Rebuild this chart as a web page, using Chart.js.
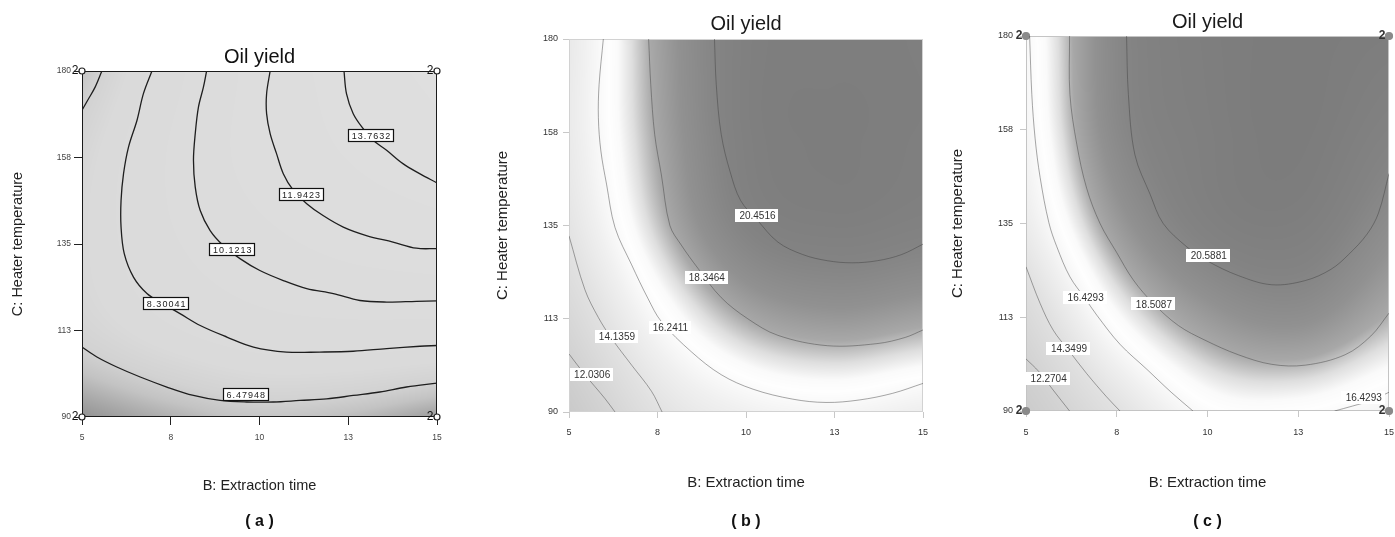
<!DOCTYPE html>
<html lang="en">
<head>
<meta charset="UTF-8">
<title>Oil yield contour plots</title>
<script src="https://cdn.jsdelivr.net/npm/chart.js"></script>
<style>
  html, body { margin: 0; padding: 0; background: #fff; }
  #wrap { position: relative; width: 1395px; height: 537px; }
  .panel { position: absolute; top: 0; height: 537px; }
</style>
</head>
<body>
<div id="wrap">
  <div class="panel" style="left:0;width:460px"><canvas id="chartA"></canvas></div>
  <div class="panel" style="left:460px;width:470px"><canvas id="chartB"></canvas></div>
  <div class="panel" style="left:930px;width:465px"><canvas id="chartC"></canvas></div>
</div>

<script>
// axis ticks (coded -1 .. +1 levels, labelled with rounded real values)
const timeTicks = [5, 7.5, 10, 12.5, 15];
const timeTickLabels = ['5', '8', '10', '13', '15'];
const tempTicks = [90, 112.5, 135, 157.5, 180];
const tempTickLabels = ['90', '113', '135', '158', '180'];

// design points in the corners, 2 replicates each
const designTime = [5, 15, 5, 15];
const designTemp = [90, 90, 180, 180];
const designReps = ['2', '2', '2', '2'];

const gridTime = [5, 7.5, 10, 12.5, 15];
const gridTemp = [90, 112.5, 135, 157.5, 180];
const aGrid = [
  [4.5, 5.3, 5.9, 5.6, 4.8],
  [6.8, 8.0, 8.8, 9.0, 8.9],
  [7.3, 9.2, 10.5, 11.45, 12.0],
  [7.0, 9.5, 11.6, 13.05, 14.2],
  [5.9, 8.9, 11.6, 13.85, 15.5]
];
const bGrid = [
  [10.6, 14.0, 15.5, 15.9, 15.3],
  [12.7, 16.2, 18.35, 19.0, 18.6],
  [14.3, 17.9, 20.45, 21.0, 20.7],
  [14.9, 18.45, 20.9, 21.3, 21.1],
  [14.8, 18.6, 20.9, 21.2, 21.1]
];
const cGrid = [
  [11.0, 14.25, 16.6, 16.8, 16.0],
  [13.2, 17.05, 19.1, 19.7, 18.4],
  [15.3, 19.06, 20.9, 21.2, 19.85],
  [16.1, 20.07, 21.2, 21.6, 20.8],
  [16.3, 20.23, 21.3, 21.6, 21.4]
];

// (a) contour lines [time, temperature]
const a648 = [[5.0,108.2],[5.42,105.6],[5.98,103.0],[6.64,100.4],[7.39,97.8],[8.14,95.6],[8.89,94.3],[9.64,93.9],[10.39,93.9],[11.14,94.3],[11.89,94.7],[12.64,95.6],[13.39,96.5],[14.14,97.8],[15,98.8]];
const a648top = [[5.56,180],[5.37,175.8],[5.16,172.4],[5.0,169.8]];
const a830 = [[6.97,180],[6.73,174.1],[6.55,167.2],[6.31,160.2],[6.17,153.3],[6.10,146.3],[6.10,139.4],[6.19,132.5],[6.45,126.4],[6.83,122.1],[7.20,119.9],[7.76,116.9],[8.33,113.8],[9.08,110.8],[9.83,108.2],[10.76,106.9],[11.70,106.9],[12.64,107.1],[13.58,107.8],[14.52,108.4],[15,108.6]];
const a1012 = [[8.51,180],[8.42,175.8],[8.28,170.6],[8.19,163.7],[8.14,156.8],[8.19,149.8],[8.33,143.7],[8.61,138.5],[8.98,134.6],[9.45,131.2],[10.01,128.1],[10.67,125.5],[11.33,123.4],[12.08,122.1],[12.83,120.3],[13.58,119.9],[14.42,120.1],[15,120.2]];
const a1194 = [[10.30,180],[10.20,174.1],[10.20,168.9],[10.30,163.7],[10.48,158.5],[10.67,153.3],[10.95,149.0],[11.33,145.5],[11.79,142.4],[12.36,139.4],[13.01,137.2],[13.76,135.5],[14.42,133.9],[15,133.8]];
const a1376 = [[12.38,180],[12.45,174.1],[12.64,168.9],[12.92,165.0],[13.20,162.0],[13.58,159.4],[14.04,155.9],[14.51,153.3],[15,150.9]];
const aLabelText = ['6.47948', '8.30041', '10.1213', '11.9423', '13.7632'];
const aLabelTime = [9.61, 7.37, 9.23, 11.17, 13.14];
const aLabelTemp = [95.9, 119.5, 133.5, 147.9, 163.3];

// (b) contour lines
const b1203 = [[5.0,104],[5.45,99],[6.01,93.3],[6.30,90]];
const b1414 = [[5.0,132.5],[5.45,119.5],[5.83,112.8],[6.2,107.8],[6.77,101.3],[7.33,95],[7.63,90]];
const b1624 = [[5.97,180],[5.85,169],[5.83,161],[5.90,153],[6.06,145],[6.30,134.5],[6.77,125.5],[7.23,117.4],[7.61,111.8],[8.46,104.5],[9.3,99],[10.2,95.5],[11.32,93.1],[12.26,92.3],[13.2,92.9],[14.14,94.5],[15,96.9]];
const b1835 = [[7.25,180],[7.31,169],[7.42,157],[7.61,147.2],[7.85,135],[8.17,130.3],[8.64,124.7],[9.3,117.6],[10.05,112.5],[10.9,108.5],[12.3,106],[13.7,106.5],[14.5,108],[15,109.8]];
const b2045 = [[9.11,180],[9.16,169],[9.3,157],[9.55,148],[9.85,141],[10.3,136.5],[10.9,131],[11.6,128],[12.3,126.5],[13.0,126],[13.71,126.5],[14.4,128],[15,130.5]];
const bLabelText = ['12.0306', '14.1359', '16.2411', '18.3464', '20.4516'];
const bLabelTime = [5.64, 6.34, 7.85, 8.88, 10.31];
const bLabelTemp = [99, 108.3, 110.5, 122.5, 137.5];

// (c) contour lines
const c1227 = [[5.0,102.5],[5.35,99.5],[5.75,95.0],[6.2,90]];
const c1435 = [[5.0,124.6],[5.39,115.8],[5.75,109.4],[6.17,104.6],[6.67,99],[7.22,93.4],[7.59,90]];
const c1643 = [[5.1,180],[5.16,166],[5.25,155.5],[5.39,146],[5.63,135.2],[5.85,129.4],[6.21,122.2],[6.63,117],[6.95,113],[7.59,106],[8.33,100],[9.0,94.5],[9.6,90]];
const c1643corner = [[13.5,90],[14.0,91.2],[14.5,92.5],[15,94.5]];
const c1851 = [[6.2,180],[6.21,166],[6.40,154],[6.67,143.5],[7.04,135],[7.5,128],[7.96,121.4],[8.51,115.8],[9.2,110.5],[9.93,107],[10.85,103.5],[11.77,101.2],[12.69,101.0],[13.79,103.5],[14.5,108],[15,113.5]];
const c2059 = [[7.77,180],[7.82,166],[8.0,151.5],[8.42,142],[8.78,135],[9.43,129.4],[10.0,126],[10.85,122.5],[11.77,120.3],[12.69,121.3],[13.4,124],[13.88,127.5],[14.4,132.5],[14.71,137.5],[15,147]];
const cLabelText = ['12.2704', '14.3499', '16.4293', '18.5087', '20.5881', '16.4293'];
const cLabelTime = [5.61, 6.17, 6.63, 8.51, 10.02, 14.29];
const cLabelTemp = [97.8, 105, 117.3, 115.7, 127.4, 93.3];

// grey shade for each yield value
const aShade = [[4.3,140],[5.0,165],[5.8,195],[6.5,210],[7.5,218],[10,220],[16,223]];
const bShade = [[10,198],[12,210],[14,225],[15.5,240],[16.6,254],[17.0,250],[17.6,222],[18.35,168],[19.3,145],[20.45,131],[21.5,124]];
const cShade = [[10,198],[12.2,210],[14.3,225],[15.7,240],[16.8,254],[17.2,250],[17.8,222],[18.5,168],[19.5,145],[20.6,131],[21.6,124]];

const FONT = "'Liberation Sans', Arial, sans-serif";

function grayAt(stops, v) {
  if (v <= stops[0][0]) return stops[0][1];
  for (let i = 1; i < stops.length; i++) {
    if (v <= stops[i][0]) {
      const [v0, g0] = stops[i - 1], [v1, g1] = stops[i];
      return g0 + (g1 - g0) * (v - v0) / (v1 - v0);
    }
  }
  return stops[stops.length - 1][1];
}

function at(grid, r, c) {
  const n = grid.length, m = grid[0].length;
  if (r < 0) return 2 * at(grid, 0, c) - at(grid, 1, c);
  if (r >= n) return 2 * at(grid, n - 1, c) - at(grid, n - 2, c);
  if (c < 0) return 2 * at(grid, r, 0) - at(grid, r, 1);
  if (c >= m) return 2 * at(grid, r, m - 1) - at(grid, r, m - 2);
  return grid[r][c];
}

function cr(p0, p1, p2, p3, t) {
  return p1 + 0.5 * t * (p2 - p0 + t * (2 * p0 - 5 * p1 + 4 * p2 - p3 + t * (3 * (p1 - p2) + p3 - p0)));
}

function surface(grid, x, y) {
  const fc = (x - gridTime[0]) / (gridTime[1] - gridTime[0]);
  const fr = (y - gridTemp[0]) / (gridTemp[1] - gridTemp[0]);
  const c = Math.min(Math.max(Math.floor(fc), 0), grid[0].length - 2);
  const r = Math.min(Math.max(Math.floor(fr), 0), grid.length - 2);
  const tc = fc - c, tr = fr - r;
  const rows = [];
  for (let k = -1; k <= 2; k++) {
    rows.push(cr(at(grid, r + k, c - 1), at(grid, r + k, c), at(grid, r + k, c + 1), at(grid, r + k, c + 2), tc));
  }
  return cr(rows[0], rows[1], rows[2], rows[3], tr);
}

function toPoints(arr) {
  return arr.map(p => ({ x: p[0], y: p[1] }));
}

// shaded surface + frame, drawn under the contour lines
function shadingPlugin(grid, stops, frameColor) {
  return {
    id: 'shading',
    beforeDatasetsDraw(chart) {
      const { ctx, chartArea: a, scales } = chart;
      const w = Math.round(a.right - a.left), h = Math.round(a.bottom - a.top);
      const off = document.createElement('canvas');
      off.width = w; off.height = h;
      const octx = off.getContext('2d');
      const img = octx.createImageData(w, h);
      for (let j = 0; j < h; j++) {
        const yv = scales.y.getValueForPixel(a.top + j + 0.5);
        for (let i = 0; i < w; i++) {
          const xv = scales.x.getValueForPixel(a.left + i + 0.5);
          const g = Math.round(grayAt(stops, surface(grid, xv, yv)));
          const k = (j * w + i) * 4;
          img.data[k] = g; img.data[k + 1] = g; img.data[k + 2] = g; img.data[k + 3] = 255;
        }
      }
      octx.putImageData(img, 0, 0);
      ctx.drawImage(off, a.left, a.top);
      ctx.save();
      ctx.strokeStyle = frameColor;
      ctx.lineWidth = 1;
      ctx.strokeRect(Math.round(a.left) + 0.5, Math.round(a.top) + 0.5, w - 1, h - 1);
      ctx.restore();
    }
  };
}

// contour value boxes and replicate counts
function labelPlugin(texts, xs, ys, style) {
  return {
    id: 'contourLabels',
    afterDatasetsDraw(chart) {
      const { ctx, scales } = chart;
      ctx.save();
      ctx.font = style.font;
      if ('letterSpacing' in ctx) ctx.letterSpacing = style.spacing;
      ctx.textAlign = 'center';
      ctx.textBaseline = 'middle';
      texts.forEach((t, i) => {
        const px = scales.x.getPixelForValue(xs[i]);
        const py = scales.y.getPixelForValue(ys[i]);
        const w = Math.round(ctx.measureText(t).width + style.padX * 2);
        const h = style.boxH;
        const bx = Math.round(px - w / 2), by = Math.round(py - h / 2);
        ctx.fillStyle = style.fill;
        ctx.fillRect(bx, by, w, h);
        if (style.border) {
          ctx.strokeStyle = style.border;
          ctx.lineWidth = 1.2;
          ctx.strokeRect(bx + 0.5, by + 0.5, w - 1, h - 1);
        }
        ctx.fillStyle = style.color;
        ctx.fillText(t, px + 0.5, py + 1);
      });
      if ('letterSpacing' in ctx) ctx.letterSpacing = '0px';
      if (style.reps) {
        ctx.font = style.repFont;
        ctx.fillStyle = style.repColor;
        ctx.textAlign = 'right';
        ctx.textBaseline = 'alphabetic';
        designReps.forEach((r, i) => {
          const px = scales.x.getPixelForValue(designTime[i]);
          const py = scales.y.getPixelForValue(designTemp[i]);
          ctx.fillText(r, px - 3.5, py + 2.5);
        });
      }
      ctx.restore();
    }
  };
}

function makePanel(id, p) {
  const lines = p.contours.map(c => ({
    data: toPoints(c),
    showLine: true,
    pointRadius: 0,
    borderColor: p.lineColor,
    borderWidth: p.lineWidth,
    tension: 0.35,
    fill: false
  }));
  if (p.points) {
    lines.push({
      data: designTime.map((t, i) => ({ x: t, y: designTemp[i] })),
      showLine: false,
      pointRadius: p.points.r,
      pointBorderWidth: 1.2,
      pointBorderColor: p.points.border,
      pointBackgroundColor: p.points.fill,
      clip: false
    });
  }
  return new Chart(document.getElementById(id), {
    type: 'scatter',
    data: { datasets: lines },
    options: {
      responsive: true,
      maintainAspectRatio: false,
      animation: false,
      events: [],
      layout: { padding: p.pad },
      plugins: {
        legend: { display: false },
        tooltip: { enabled: false },
        title: {
          display: true, text: 'Oil yield', fullSize: false, color: p.titleColor,
          font: { family: FONT, size: 20, weight: 'normal', lineHeight: 1.2 },
          padding: { top: 0, bottom: p.titleGap }
        },
        subtitle: {
          display: true, text: p.caption, position: 'bottom', fullSize: false, color: '#111',
          font: { family: FONT, size: 16, weight: 'bold', lineHeight: 1.2 },
          padding: { top: p.captionGap, bottom: 0 }
        }
      },
      scales: {
        x: {
          type: 'linear', min: 5, max: 15,
          afterBuildTicks: s => { s.ticks = timeTicks.map(v => ({ value: v })); },
          afterFit: s => { s.height = p.xHeight; s.paddingLeft = 0; s.paddingRight = 0; },
          ticks: {
            autoSkip: false, maxRotation: 0, padding: p.xTickPad,
            color: p.tickColor, font: { family: FONT, size: p.tickSize },
            callback: (v, i) => timeTickLabels[i]
          },
          grid: { drawOnChartArea: false, drawTicks: true, tickLength: p.tickLen, color: p.tickLine },
          border: { display: false },
          title: {
            display: true, text: 'B: Extraction time', color: '#222', padding: 0,
            font: { family: FONT, size: p.axisSize, lineHeight: 1.2 }
          }
        },
        y: {
          type: 'linear', min: 90, max: 180,
          afterBuildTicks: s => { s.ticks = tempTicks.map(v => ({ value: v })); },
          afterFit: s => { s.width = p.yWidth; s.paddingTop = 0; s.paddingBottom = 0; },
          ticks: {
            autoSkip: false, padding: p.yTickPad,
            color: p.tickColor, font: { family: FONT, size: p.tickSize },
            callback: (v, i) => tempTickLabels[i]
          },
          grid: { drawOnChartArea: false, drawTicks: true, tickLength: p.tickLen, color: p.tickLine },
          border: { display: false },
          title: {
            display: true, text: 'C: Heater temperature', color: '#222', padding: 0,
            font: { family: FONT, size: p.axisSize, lineHeight: 1.2 }
          }
        }
      }
    },
    plugins: [shadingPlugin(p.grid, p.shade, p.frame), labelPlugin(p.labels, p.labelX, p.labelY, p.labelStyle)]
  });
}

makePanel('chartA', {
  grid: aGrid, shade: aShade, frame: '#1a1a1a',
  contours: [a648, a648top, a830, a1012, a1194, a1376],
  lineColor: '#1e1e1e', lineWidth: 1.3,
  points: { r: 3, border: '#222', fill: '#fff' },
  labels: aLabelText, labelX: aLabelTime, labelY: aLabelTemp,
  labelStyle: {
    font: '9px ' + FONT, spacing: '1px', padX: 3, boxH: 13, fill: '#fff', border: '#111', color: '#222',
    reps: true, repFont: '12px ' + FONT, repColor: '#111'
  },
  pad: { left: 9, right: 23, top: 45, bottom: 5.4 },
  yWidth: 73, xHeight: 77.4, titleGap: 2, captionGap: 18, caption: '( a )', titleColor: '#111',
  tickSize: 8.5, tickColor: '#444', tickLine: '#222', tickLen: 8, xTickPad: 8, yTickPad: 3, axisSize: 14.5
});

makePanel('chartB', {
  grid: bGrid, shade: bShade, frame: '#d2d2d2',
  contours: [b1203, b1414, b1624, b1835, b2045],
  lineColor: 'rgba(60,60,60,0.45)', lineWidth: 1,
  points: null,
  labels: bLabelText, labelX: bLabelTime, labelY: bLabelTemp,
  labelStyle: { font: '10px ' + FONT, spacing: '0px', padX: 3.5, boxH: 13, fill: '#fff', border: null, color: '#333', reps: false },
  pad: { left: 34, right: 7, top: 12.5, bottom: 5.4 },
  yWidth: 75, xHeight: 79.4, titleGap: 2.5, captionGap: 21, caption: '( b )', titleColor: '#1a1a1a',
  tickSize: 9, tickColor: '#333', tickLine: '#c8c8c8', tickLen: 6, xTickPad: 9, yTickPad: 5, axisSize: 15
});

makePanel('chartC', {
  grid: cGrid, shade: cShade, frame: '#c4c4c4',
  contours: [c1227, c1435, c1643, c1643corner, c1851, c2059],
  lineColor: 'rgba(60,60,60,0.45)', lineWidth: 1,
  points: { r: 3.5, border: '#8a8a8a', fill: '#8a8a8a' },
  labels: cLabelText, labelX: cLabelTime, labelY: cLabelTemp,
  labelStyle: {
    font: '10px ' + FONT, spacing: '0px', padX: 4, boxH: 13, fill: '#fff', border: null, color: '#333',
    reps: true, repFont: 'bold 12px ' + FONT, repColor: '#333'
  },
  pad: { left: 19, right: 6, top: 10, bottom: 5.4 },
  yWidth: 77, xHeight: 80.4, titleGap: 2, captionGap: 21, caption: '( c )', titleColor: '#1a1a1a',
  tickSize: 9, tickColor: '#333', tickLine: '#c8c8c8', tickLen: 6, xTickPad: 10, yTickPad: 7, axisSize: 15
});
</script>
</body>
</html>
